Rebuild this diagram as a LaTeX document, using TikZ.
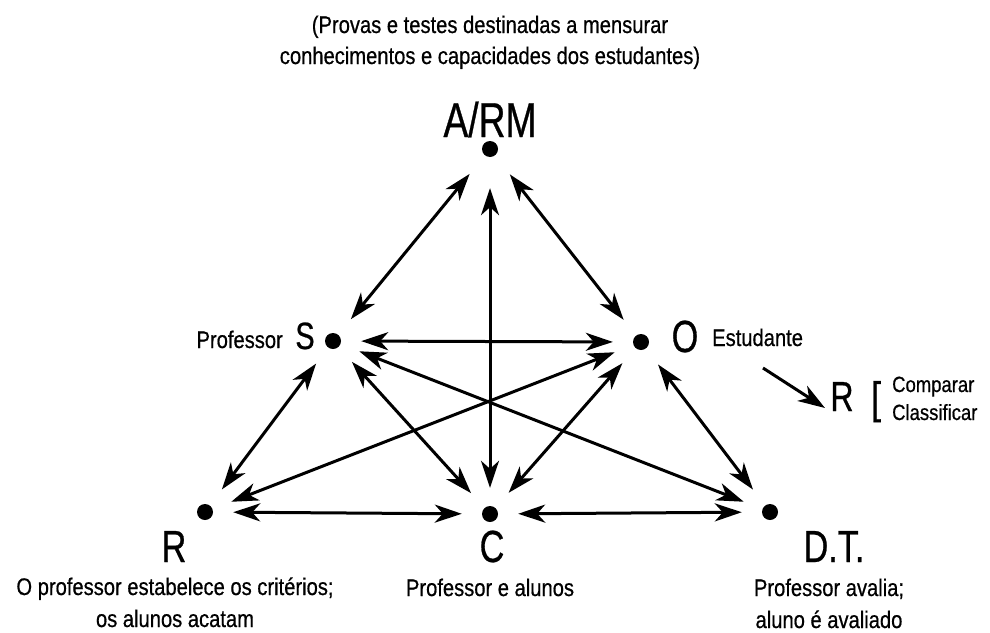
\documentclass[tikz,border=0pt]{standalone}
\usepackage{fontspec}
\setmainfont{Liberation Sans}
\newfontfamily\condsmall[FakeStretch=0.84,FakeBold=0.6]{Liberation Sans}
\newfontfamily\condbig[FakeStretch=0.76,FakeBold=0.6]{Liberation Sans}
\usetikzlibrary{arrows.meta}
\begin{document}
\begin{tikzpicture}[x=1pt,y=-1pt,
  pt/.style={circle,fill=black,inner sep=0pt,minimum size=16pt},
  lbl/.style={inner sep=0pt,anchor=base,font=\condsmall\fontsize{24}{28}\selectfont},
  big/.style={inner sep=0pt,anchor=base,font=\condbig\fontsize{45}{50}\selectfont},
  link/.style={line width=3pt,{Stealth[length=27pt,width=18pt,inset=8pt]}-{Stealth[length=27pt,width=18pt,inset=8pt]},shorten <=20pt,shorten >=20pt},
  one/.style={line width=3pt,-{Stealth[length=27pt,width=18pt,inset=8pt]}}
]
\useasboundingbox (0,0) rectangle (990,632);
% points
\node[pt] (A) at (490,149) {};
\node[pt] (S) at (333,341) {};
\node[pt] (O) at (641,342) {};
\node[pt] (R) at (205,512) {};
\node[pt] (C) at (490,514) {};
\node[pt] (D) at (770,512) {};
% top text
\node[lbl] (t1) at (490,33) {(Provas e testes destinadas a mensurar};
\node[lbl] (t2) at (490,64) {conhecimentos e capacidades dos estudantes)};
% big labels
\node[big,font=\condbig\fontsize{49}{54}\selectfont] (lA) at (490,137) {A/RM};
\node[big,font=\condbig\fontsize{38}{42}\selectfont] (lS) at (305,349) {S};
\node[big] (lO) at (685,352) {O};
\node[big] (lR) at (174,562) {R};
\node[big] (lC) at (492,562) {C};
\node[big] (lD) at (834,562) {D.T.};
% small labels
\node[lbl,anchor=base east] (pS) at (283,348) {Professor};
\node[lbl,anchor=base west] (eO) at (712,346) {Estudante};
\node[lbl] (bR1) at (175,595) {O professor estabelece os critérios;};
\node[lbl] (bR2) at (175,627) {os alunos acatam};
\node[lbl] (bC) at (490,596) {Professor e alunos};
\node[lbl] (bD1) at (829,596) {Professor avalia;};
\node[lbl] (bD2) at (829,628) {aluno é avaliado};
% side result
\node[big,font=\condbig\fontsize{42}{46}\selectfont] (rR) at (842,411) {R};
\node[big,font=\condsmall\fontsize{44}{46}\selectfont] (rB) at (876,413) {[};
\node[lbl,anchor=base west,font=\condsmall\fontsize{22}{24}\selectfont] (rC1) at (892,392) {Comparar};
\node[lbl,anchor=base west,font=\condsmall\fontsize{22}{24}\selectfont] (rC2) at (892,420) {Classificar};
\coordinate (s1) at (763,368);
\coordinate (s2) at (825,408);
\draw[one] (s1) -- (s2);
% links
\draw[link,shorten <=24pt] (A) -- (S);
\draw[link,shorten <=24pt] (A) -- (O);
\draw[link,shorten <=31pt,shorten >=18pt] (A) -- (C);
\draw[link] (S) -- (O);
\draw[link] (S) -- (R);
\draw[link] (S) -- (C);
\draw[link] (S) -- (D);
\draw[link] (O) -- (R);
\draw[link] (O) -- (C);
\draw[link] (O) -- (D);
\draw[link] (R) -- (C);
\draw[link] (C) -- (D);
\end{tikzpicture}
\end{document}
